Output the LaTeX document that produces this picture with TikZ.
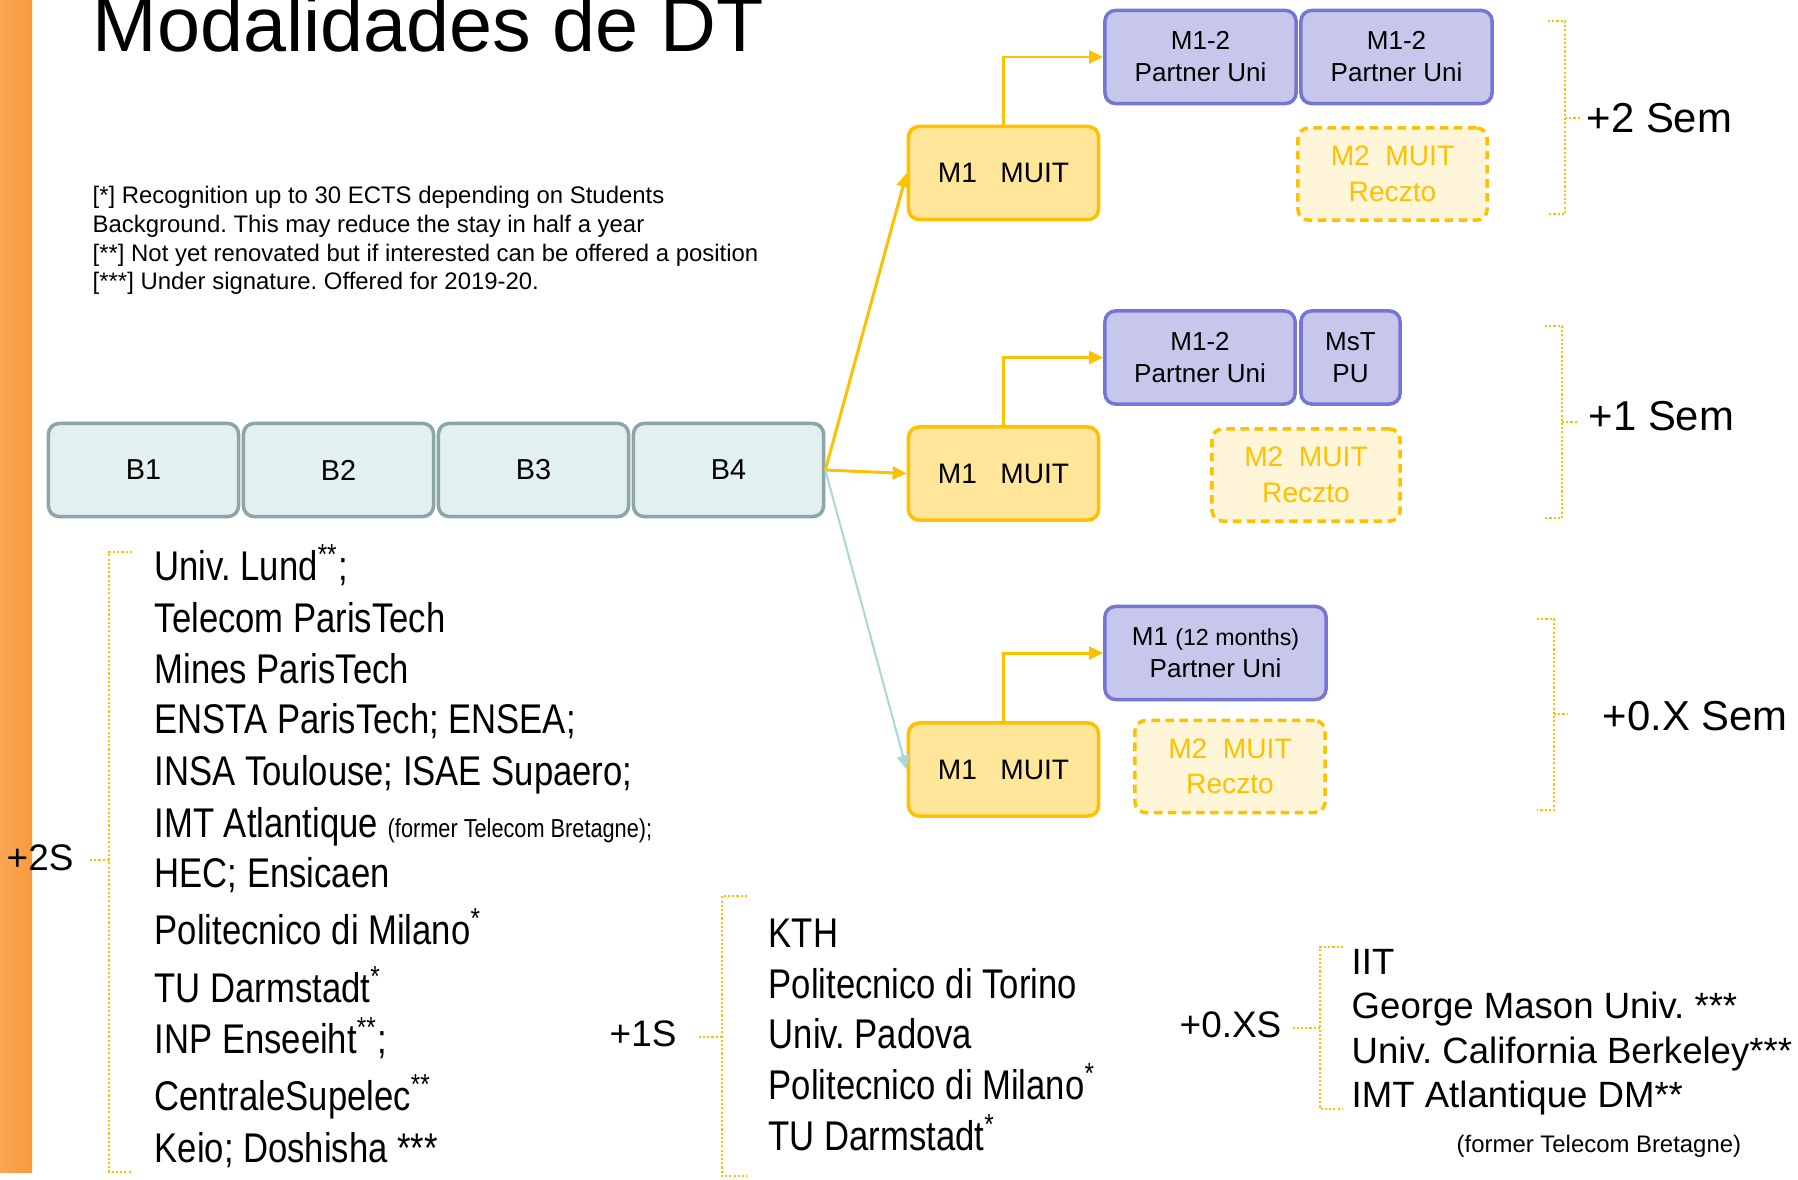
\documentclass[tikz,border=0pt]{standalone}
\usepackage{fontspec}
\setmainfont{Liberation Sans}
\newfontfamily\narrowfont[FakeStretch=0.835]{Liberation Sans}
\usetikzlibrary{arrows.meta}
\frenchspacing
\definecolor{barorange}{RGB}{249,154,60}
\definecolor{gold}{RGB}{255,192,0}
\definecolor{goldfill}{RGB}{255,230,153}
\definecolor{paleyellow}{RGB}{255,245,217}
\definecolor{lavender}{RGB}{199,199,236}
\definecolor{lavenderedge}{RGB}{117,117,213}
\definecolor{paleteal}{RGB}{226,240,240}
\definecolor{tealedge}{RGB}{140,165,166}
\definecolor{tealline}{RGB}{168,216,218}

\begin{document}
\begin{tikzpicture}[x=0.01cm,y=-0.01cm]
\tikzstyle{year} = [draw=tealedge, fill=paleteal, line width=1pt, rounded corners=3pt, minimum width=1.9cm, minimum height=0.93cm, inner sep=0, font=\fontsize{8.2}{9}\selectfont]
\tikzstyle{muit} = [draw=gold, fill=goldfill, line width=1pt, rounded corners=3pt, minimum width=1.9cm, minimum height=0.93cm, inner sep=0, font=\fontsize{8}{9}\selectfont]
\tikzstyle{partner} = [draw=lavenderedge, fill=lavender, line width=1pt, rounded corners=3pt, minimum height=0.93cm, inner sep=0, align=center, font=\fontsize{7.4}{9.1}\selectfont]
\tikzstyle{reczto} = [draw=gold, fill=paleyellow, dash pattern=on 2.4pt off 1.6pt, line width=1pt, rounded corners=3pt, minimum height=0.92cm, inner sep=0, align=center, text=gold, font=\fontsize{8}{10.1}\selectfont]
\tikzstyle{goarrow} = [draw=gold, line width=0.85pt, -{Triangle[length=4pt,width=3.6pt]}]
\tikzstyle{tealarrow} = [draw=tealline, line width=0.6pt, -{Triangle[length=4pt,width=3.6pt]}]
\tikzstyle{bracket} = [draw=gold, line width=0.5pt, dash pattern=on 0.6pt off 0.6pt]
\tikzstyle{school} = [anchor=base west, inner sep=0, font=\narrowfont\fontsize{11.8}{13}\selectfont]
\tikzstyle{abroad} = [anchor=base west, inner sep=0, font=\fontsize{10.4}{12}\selectfont]
\tikzstyle{sem} = [anchor=base west, inner sep=0, font=\fontsize{11.9}{13}\selectfont]
\tikzstyle{semshort} = [anchor=base west, inner sep=0, font=\fontsize{10.5}{12}\selectfont]
\tikzstyle{note} = [anchor=base west, inner sep=0, font=\fontsize{6.8}{8}\selectfont]

\useasboundingbox (0,0) rectangle (1798,1179);
\shade[left color=barorange!88!white, right color=barorange] (0,0) rectangle (32,1172);

\node [anchor=base west, inner sep=0, font=\fontsize{22}{26}\selectfont] (title) at (92,52) {Modalidades de DT};

% footnotes
\foreach \t/\y [count=\i] in {{[*] Recognition up to 30 ECTS depending on Students}/203,
                              {Background. This may reduce the stay in half a year}/232,
                              {[**] Not yet renovated but if interested can be offered a position}/261,
                              {[***] Under signature. Offered for 2019-20.}/289}
{
	\node [note] (fn\i) at (92,\y) {\t};
}

% bachelor years
\foreach \n [count=\i from 0] in {1,2,3,4}
{
	\node [year] (b\n) at (143.5+\i*195,470) {B\n};
}

% three ways
\node [muit] (muit1) at (1003.5,173) {M1\ \ \ MUIT};
\node [muit] (muit2) at (1003.5,473.5) {M1\ \ \ MUIT};
\node [muit] (muit3) at (1003.5,769.5) {M1\ \ \ MUIT};

\node [partner, minimum width=1.91cm] (pu1a) at (1200.5,57) {M1-2\\Partner Uni};
\node [partner, minimum width=1.91cm] (pu1b) at (1396.5,57) {M1-2\\Partner Uni};
\node [reczto, minimum width=1.89cm] (rec1) at (1392.5,174) {M2\ \ MUIT\\Reczto};

\node [partner, minimum width=1.90cm] (pu2a) at (1200,357.5) {M1-2\\Partner Uni};
\node [partner, minimum width=0.99cm] (mst) at (1350.5,357.5) {MsT\\PU};
\node [reczto, minimum width=1.88cm] (rec2) at (1306,475) {M2\ \ MUIT\\Reczto};

\node [partner, minimum width=2.21cm] (pu3) at (1215.5,653) {M1 {\fontsize{6.6}{8}\selectfont(12 months)}\\Partner Uni};
\node [reczto, minimum width=1.90cm] (rec3) at (1230,766.5) {M2\ \ MUIT\\Reczto};

\draw [goarrow] (b4.east) -- (muit1.west);
\draw [goarrow] (b4.east) -- (muit2.west);
\draw [tealarrow] (b4.east) -- (muit3.west);
\draw [goarrow] (muit1.north) |- (pu1a.west);
\draw [goarrow] (muit2.north) |- (pu2a.west);
\draw [goarrow] (muit3.north) |- (pu3.west);

% right braces
\draw [bracket] (1548,21) -- (1565,21) -- (1565,214) -- (1548,214);
\draw [bracket] (1565,118) -- (1580,118);
\node [sem] (s2) at (1586,133) {+2 Sem};
\draw [bracket] (1545,326) -- (1562,326) -- (1562,518) -- (1545,518);
\draw [bracket] (1562,422) -- (1578,422);
\node [sem] (s1) at (1588,430) {+1 Sem};
\draw [bracket] (1537,619) -- (1554,619) -- (1554,810) -- (1537,810);
\draw [bracket] (1554,714) -- (1568,714);
\node [sem] (s0) at (1602,730) {+0.X Sem};

% partner schools
\draw [bracket] (132,552) -- (109,552) -- (109,1172) -- (132,1172);
\draw [bracket] (109,860) -- (90,860);
\node [semshort] (l2) at (6,870) {+2S};
\foreach \t/\y [count=\i] in {{Univ. Lund\textsuperscript{**};}/580, {Telecom ParisTech}/632, {Mines ParisTech}/683,
                              {ENSTA ParisTech; ENSEA;}/733, {INSA Toulouse; ISAE Supaero;}/785,
                              {IMT Atlantique {\fontsize{7.4}{8}\selectfont(former Telecom Bretagne);}}/837,
                              {HEC; Ensicaen}/887, {Politecnico di Milano\textsuperscript{*}}/944, {TU Darmstadt\textsuperscript{*}}/1002,
                              {INP Enseeiht\textsuperscript{**};}/1053, {CentraleSupelec\textsuperscript{**}}/1110, {Keio; Doshisha ***}/1162}
{
	\node [school] (two\i) at (154,\y) {\t};
}

\draw [bracket] (747,896) -- (722,896) -- (722,1176) -- (747,1176);
\draw [bracket] (722,1037) -- (698,1037);
\node [semshort] (l1) at (609,1046) {+1S};
\foreach \t/\y [count=\i] in {{KTH}/947, {Politecnico di Torino}/998, {Univ. Padova}/1048,
                              {Politecnico di Milano\textsuperscript{*}}/1099, {TU Darmstadt\textsuperscript{*}}/1150}
{
	\node [school] (one\i) at (768,\y) {\t};
}

\draw [bracket] (1343,947) -- (1320,947) -- (1320,1109) -- (1343,1109);
\draw [bracket] (1320,1028) -- (1292,1028);
\node [semshort] (l0) at (1179,1037) {+0.XS};
\foreach \t/\y [count=\i] in {{IIT}/974, {George Mason Univ. ***}/1018, {Univ. California Berkeley***}/1063,
                              {IMT Atlantique DM**}/1107}
{
	\node [abroad] (zero\i) at (1351,\y) {\t};
}
\node [anchor=base west, inner sep=0, font=\fontsize{6.8}{8}\selectfont] (former) at (1456,1152) {(former Telecom Bretagne)};
\end{tikzpicture}
\end{document}
